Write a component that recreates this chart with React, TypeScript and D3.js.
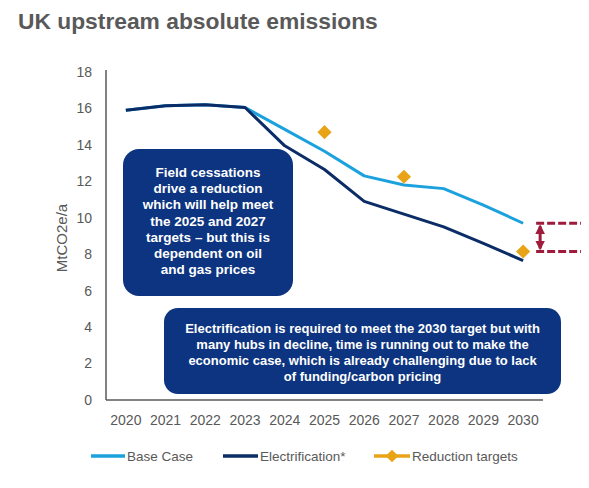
import * as d3 from "d3";

const years = ["2020", "2021", "2022", "2023", "2024", "2025", "2026", "2027", "2028", "2029", "2030"];
const baseCase = [15.9, 16.15, 16.2, 16.05, 14.85, 13.65, 12.3, 11.8, 11.6, 10.7, 9.7];
const electrification = [15.9, 16.15, 16.2, 16.05, 13.95, 12.65, 10.9, 10.2, 9.5, 8.6, 7.65];
const targetYears = ["2025", "2027", "2030"];
const targetValues = [14.7, 12.25, 8.15];
const yTicks = [0, 2, 4, 6, 8, 10, 12, 14, 16, 18];

const box1Lines = [
  "Field cessations",
  "drive a reduction",
  "which will help meet",
  "the 2025 and 2027",
  "targets \u2013 but this is",
  "dependent on oil",
  "and gas prices",
];
const box2Lines = [
  "Electrification is required to meet the 2030 target but with",
  "many hubs in decline, time is running out to make the",
  "economic case, which is already challenging due to lack",
  "of funding/carbon pricing",
];

const W = 589;
const H = 488;
const left = 106;
const right = 543;
const top = 72;
const bottom = 400;

const LIGHT = "#1ba1dd";
const NAVY = "#0b2c66";
const GOLD = "#e8a317";
const RED = "#9e1b3c";
const GREY = "#595959";
const FONT = "Arial, 'Liberation Sans', sans-serif";

export default function App() {
  const x = d3.scaleBand().domain(years).range([left, right]).padding(0);
  const cx = (yr: string) => (x(yr) ?? 0) + x.bandwidth() / 2;
  const y = d3.scaleLinear().domain([0, 18]).range([bottom, top]);

  const line = d3
    .line<number>()
    .x((_, i) => cx(years[i]))
    .y((d) => y(d));

  const last = years[years.length - 1];
  const annX0 = cx(last) + 13;
  const arrowX = cx(last) + 17;
  const yHi = y(baseCase[baseCase.length - 1]);
  const yLo = y(targetValues[targetValues.length - 1]);

  return (
    <svg
      width={W}
      height={H}
      style={{ position: "absolute", left: 0, top: 0, background: "#fff" }}
      fontFamily={FONT}
    >
      <defs>
        <marker id="ah" viewBox="0 0 10 10" refX="8" refY="5" markerWidth="3.2" markerHeight="3.2" orient="auto-start-reverse">
          <path d="M0,0 L10,5 L0,10 z" fill={RED} />
        </marker>
      </defs>
      <text x={18} y={28.5} fontSize={22.8} fontWeight="bold" fill={GREY}>
        UK upstream absolute emissions
      </text>

      {/* y axis */}
      <line x1={left} x2={left} y1={top - 2} y2={bottom} stroke="#595959" strokeWidth={1.5} />
      {yTicks.map((t) => (
        <text key={t} x={92} y={y(t)} dy="0.35em" textAnchor="end" fontSize={14} fill={GREY}>
          {t}
        </text>
      ))}
      <text
        transform={`translate(67,${(top + bottom) / 2 + 2}) rotate(-90)`}
        textAnchor="middle"
        fontSize={15}
        fill={GREY}
      >
        MtCO2e/a
      </text>

      {/* x axis */}
      <line x1={left} x2={right} y1={bottom} y2={bottom} stroke="#595959" strokeWidth={1.5} />
      {years.map((yr) => (
        <text key={yr} x={cx(yr)} y={425} textAnchor="middle" fontSize={14} fill={GREY}>
          {yr}
        </text>
      ))}

      {/* lines */}
      <path d={line(baseCase) ?? ""} fill="none" stroke={LIGHT} strokeWidth={3} strokeLinejoin="round" />
      <path d={line(electrification) ?? ""} fill="none" stroke={NAVY} strokeWidth={3} strokeLinejoin="round" />

      {targetYears.map((yr, i) => (
        <rect
          key={yr}
          x={-5}
          y={-5}
          width={10}
          height={10}
          fill={GOLD}
          transform={`translate(${cx(yr)},${y(targetValues[i])}) rotate(45)`}
        />
      ))}

      {/* gap annotation */}
      <line x1={annX0} x2={581} y1={yHi} y2={yHi} stroke={RED} strokeWidth={3} strokeDasharray="8 3" />
      <line x1={annX0} x2={581} y1={yLo} y2={yLo} stroke={RED} strokeWidth={3} strokeDasharray="8 3" />
      <line
        x1={arrowX}
        x2={arrowX}
        y1={yHi + 3}
        y2={yLo - 3}
        stroke={RED}
        strokeWidth={3}
        markerStart="url(#ah)"
        markerEnd="url(#ah)"
      />

      {/* text boxes */}
      <rect x={123} y={149} width={170} height={147} rx={16} fill="#0c3480" />
      {box1Lines.map((l, i) => (
        <text key={i} x={208} y={177 + i * 16.2} textAnchor="middle" fontSize={13.5} fontWeight="bold" fill="#fff">
          {l}
        </text>
      ))}
      <rect x={164} y={308} width={397} height={86} rx={14} fill="#0c3480" />
      {box2Lines.map((l, i) => (
        <text key={i} x={362.5} y={333 + i * 16} textAnchor="middle" fontSize={13} fontWeight="bold" fill="#fff">
          {l}
        </text>
      ))}

      {/* legend */}
      <line x1={91} x2={125} y1={456} y2={456} stroke={LIGHT} strokeWidth={3.5} />
      <text x={127} y={461} fontSize={13.5} fill={GREY}>Base Case</text>
      <line x1={223} x2={258} y1={456} y2={456} stroke={NAVY} strokeWidth={3.5} />
      <text x={260} y={461} fontSize={13.5} fill={GREY}>Electrification*</text>
      <line x1={374} x2={410} y1={456} y2={456} stroke={GOLD} strokeWidth={3.5} />
      <rect x={-4.5} y={-4.5} width={9} height={9} fill={GOLD} transform="translate(392,456) rotate(45)" />
      <text x={412} y={461} fontSize={13.5} fill={GREY}>Reduction targets</text>
    </svg>
  );
}
